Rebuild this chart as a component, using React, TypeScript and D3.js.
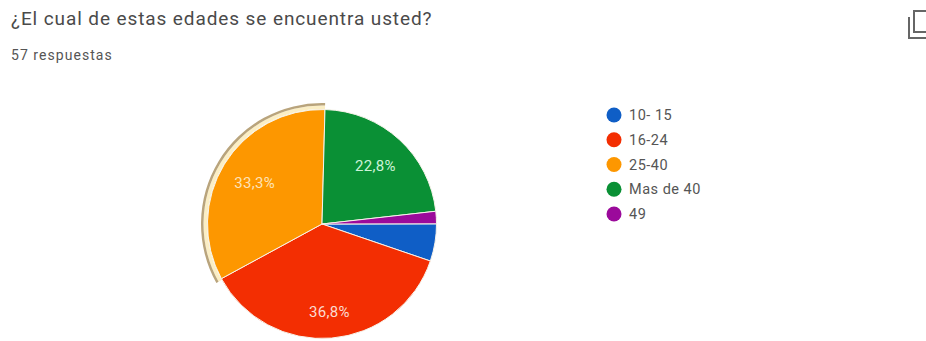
import React from "react";
import * as d3 from "d3";

const categories = ["10- 15", "16-24", "25-40", "Mas de 40", "49"];
const responses = [3, 21, 19, 13, 1];
const sliceLabels = ["", "36,8%", "33,3%", "22,8%", ""];
const colors = ["#0f5ec6", "#f32e02", "#fd9700", "#0a9035", "#9b0a9b"];
const labelColors = ["", "#fbdcd2", "#fde3b8", "#cdf3d8", ""];
const title = "¿El cual de estas edades se encuentra usted?";
const subtitle = "57 respuestas";

const WIDTH = 926;
const HEIGHT = 341;
const CX = 322;
const CY = 224;
const RADIUS = 114.5;
// Small clockwise turn of the whole pie, in radians.
const ROTATION = 0.026;
// Distance of each slice label from the centre, as a share of the radius.
const LABEL_DISTANCE = [0.7, 0.77, 0.69, 0.69, 0.7];

export default function App() {
  const total = d3.sum(responses);
  // The first slice begins after the last two categories, which wrap past twelve o'clock.
  const start = (2 * Math.PI * (responses[3] + responses[4])) / total + ROTATION;
  const slices = d3
    .pie<number>()
    .sort(null)
    .startAngle(start)
    .endAngle(start + 2 * Math.PI)(responses);

  const slice = d3.arc<d3.PieArcDatum<number>>().innerRadius(0).outerRadius(RADIUS);

  // Selection ring around the highlighted slice.
  const hi = slices[2];
  const ring = (r0: number, r1: number) =>
    d3.arc()({
      innerRadius: r0,
      outerRadius: r1,
      startAngle: hi.startAngle - 0.012,
      endAngle: hi.endAngle,
    }) as string;

  const legendY = d3
    .scalePoint<string>()
    .domain(categories)
    .range([115, 214]);

  const font = "Roboto, Arial, sans-serif";

  return (
    <svg
      width={WIDTH}
      height={HEIGHT}
      viewBox={`0 0 ${WIDTH} ${HEIGHT}`}
      style={{ position: "absolute", left: 0, top: 0, background: "#fff" }}
      fontFamily={font}
    >
      <text x={11} y={25} fontSize={19} letterSpacing={0.9} fill="#4a4a4a">
        {title}
      </text>
      <text x={11} y={60} fontSize={14} letterSpacing={1.05} fill="#555">
        {subtitle}
      </text>

      <g transform={`translate(${CX},${CY})`}>
        <path d={ring(115, 118.5)} fill="#fbeec4" />
        <path d={ring(118.5, 121)} fill="#b9a47c" />
        {slices.map((d, i) => (
          <path key={categories[i]} d={slice(d) as string} fill={colors[i]} stroke="#f7f3ea" strokeWidth={1} />
        ))}
        {slices.map((d, i) => {
          if (!sliceLabels[i]) return null;
          const r = RADIUS * LABEL_DISTANCE[i];
          const [x, y] = d3
            .arc<d3.PieArcDatum<number>>()
            .innerRadius(r)
            .outerRadius(r)
            .centroid(d);
          return (
            <text
              key={sliceLabels[i]}
              x={x}
              y={y}
              dy="0.35em"
              textAnchor="middle"
              fontSize={15}
              letterSpacing={0.3}
              fill={labelColors[i]}
            >
              {sliceLabels[i]}
            </text>
          );
        })}
      </g>

      {categories.map((c, i) => (
        <g key={c} transform={`translate(0,${legendY(c)})`}>
          <circle cx={614} cy={0} r={7.5} fill={colors[i]} />
          <text x={629} y={0} dy="0.35em" fontSize={14.5} letterSpacing={0.5} fill="#555">
            {c}
          </text>
        </g>
      ))}

      {/* Copy icon */}
      <g fill="none" stroke="#666" strokeWidth={2}>
        <rect x={914} y={11} width={16} height={21} />
        <path d="M909 17V38H926" />
      </g>
    </svg>
  );
}
